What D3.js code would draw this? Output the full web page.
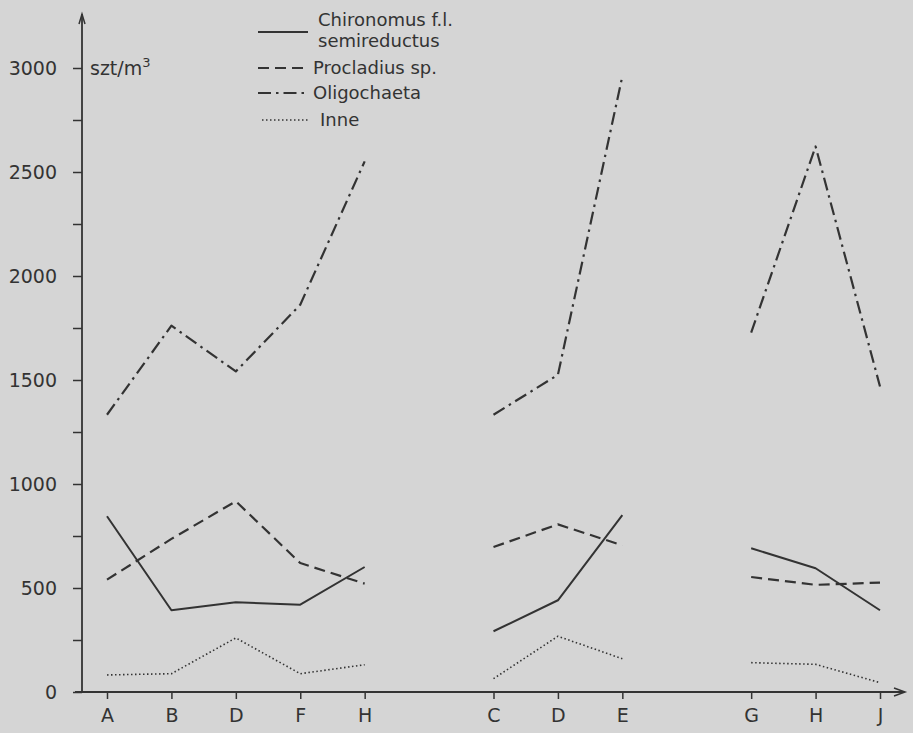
<!DOCTYPE html>
<html>
<head>
<meta charset="utf-8">
<script src="https://cdn.jsdelivr.net/npm/d3@7"></script>
<style>
  html, body { margin: 0; padding: 0; background: #d5d5d5; }
  svg { display: block; }
  text { font-family: "DejaVu Sans", sans-serif; fill: #333; }
</style>
</head>
<body>
<div class="chart"></div>
<script>
// stations along the x axis, three separate transects
const stations = ["A", "B", "D", "F", "H", "C", "D", "E", "G", "H", "J"];
const groups = [1, 1, 1, 1, 1, 2, 2, 2, 3, 3, 3];

// szt/m3
const chironomus = [845, 393, 431, 420, 601, 292, 441, 850, 691, 595, 393];
const procladius = [540, 736, 917, 620, 521, 697, 806, 705, 553, 515, 526];
const oligochaeta = [1333, 1761, 1541, 1862, 2551, 1333, 1525, 2960, 1728, 2623, 1469];
const inne = [82, 88, 260, 88, 131, 64, 268, 160, 141, 133, 45];

const yTicks = d3.range(0, 3001, 250);

const width = 913, height = 733;
const ink = "#333";

const svg = d3.select(".chart").append("svg")
    .attr("width", width)
    .attr("height", height);

// slot index: one empty slot between transects
const slot = stations.map((s, i) => i + (groups[i] - 1));

const x = d3.scaleLinear().domain([0, 12]).range([107, 880]);
const y = d3.scaleLinear().domain([0, 3000]).range([692, 68]);

const axisX = 82;

// y axis
const yAxis = d3.axisLeft(y)
    .tickValues(yTicks)
    .tickSize(9)
    .tickPadding(16)
    .tickFormat(d => d % 500 === 0 ? d : "");

const gy = svg.append("g")
    .attr("transform", `translate(${axisX},0)`)
    .call(yAxis);
gy.select(".domain").remove();
gy.selectAll(".tick line").attr("stroke", ink).attr("stroke-width", 1.5);
gy.selectAll(".tick text").style("font-size", "19px").attr("fill", "#333");

svg.append("line")
    .attr("x1", axisX).attr("x2", axisX)
    .attr("y1", 14).attr("y2", 693)
    .attr("stroke", ink).attr("stroke-width", 1.8);
svg.append("path")
    .attr("d", `M${axisX - 3},24 L${axisX},14 L${axisX + 3},24`)
    .attr("fill", "none").attr("stroke", ink).attr("stroke-width", 1.5);

// x axis
const xAxis = d3.axisBottom(x)
    .tickValues(slot)
    .tickSize(7)
    .tickPadding(10)
    .tickFormat((d, i) => stations[i]);

const gx = svg.append("g")
    .attr("transform", `translate(0,${y(0)})`)
    .call(xAxis);
gx.select(".domain").remove();
gx.selectAll(".tick line").attr("stroke", ink).attr("stroke-width", 1.5);
gx.selectAll(".tick text").style("font-size", "19px").attr("fill", "#333");

svg.append("line")
    .attr("x1", 75).attr("x2", 904)
    .attr("y1", y(0)).attr("y2", y(0))
    .attr("stroke", ink).attr("stroke-width", 2);
svg.append("path")
    .attr("d", `M894,${y(0) - 4} L905,${y(0)} L894,${y(0) + 4}`)
    .attr("fill", "none").attr("stroke", ink).attr("stroke-width", 1.5);

// unit label
const unit = svg.append("text")
    .attr("x", 90).attr("y", y(3000) + 7)
    .style("font-size", "19px")
    .text("szt/m");
unit.append("tspan")
    .attr("dy", -8)
    .style("font-size", "13px")
    .text("3");

// series
const styles = [
    { values: chironomus, dash: null, w: 2 },
    { values: procladius, dash: "11,6", w: 2.2 },
    { values: oligochaeta, dash: "13,5,2.5,5", w: 2.2 },
    { values: inne, dash: "1.5,2.5", w: 1.6 }
];

const line = d3.line()
    .x(d => x(d.slot))
    .y(d => y(d.value));

styles.forEach(s => {
    [1, 2, 3].forEach(g => {
        const pts = s.values
            .map((v, i) => ({ slot: slot[i], value: v, group: groups[i] }))
            .filter(d => d.group === g);
        svg.append("path")
            .datum(pts)
            .attr("d", line)
            .attr("fill", "none")
            .attr("stroke", ink)
            .attr("stroke-width", s.w)
            .attr("stroke-linejoin", "round")
            .attr("stroke-dasharray", s.dash);
    });
});

// legend
const legend = svg.append("g");
const legendRows = [
    { y: 32, x1: 258, x2: 308, tx: 318, lines: ["Chironomus f.l.", "semireductus"], ty: [26, 47] },
    { y: 68, x1: 258, x2: 306, tx: 313, lines: ["Procladius sp."], ty: [74] },
    { y: 93, x1: 258, x2: 306, tx: 313, lines: ["Oligochaeta"], ty: [99] },
    { y: 120, x1: 262, x2: 310, tx: 320, lines: ["Inne"], ty: [126] }
];

legendRows.forEach((r, i) => {
    legend.append("line")
        .attr("x1", r.x1).attr("x2", r.x2)
        .attr("y1", r.y).attr("y2", r.y)
        .attr("stroke", ink)
        .attr("stroke-width", styles[i].w)
        .attr("stroke-dasharray", styles[i].dash);
    r.lines.forEach((t, j) => {
        legend.append("text")
            .attr("x", r.tx).attr("y", r.ty[j])
            .style("font-size", "18px")
            .text(t);
    });
});
</script>
</body>
</html>
